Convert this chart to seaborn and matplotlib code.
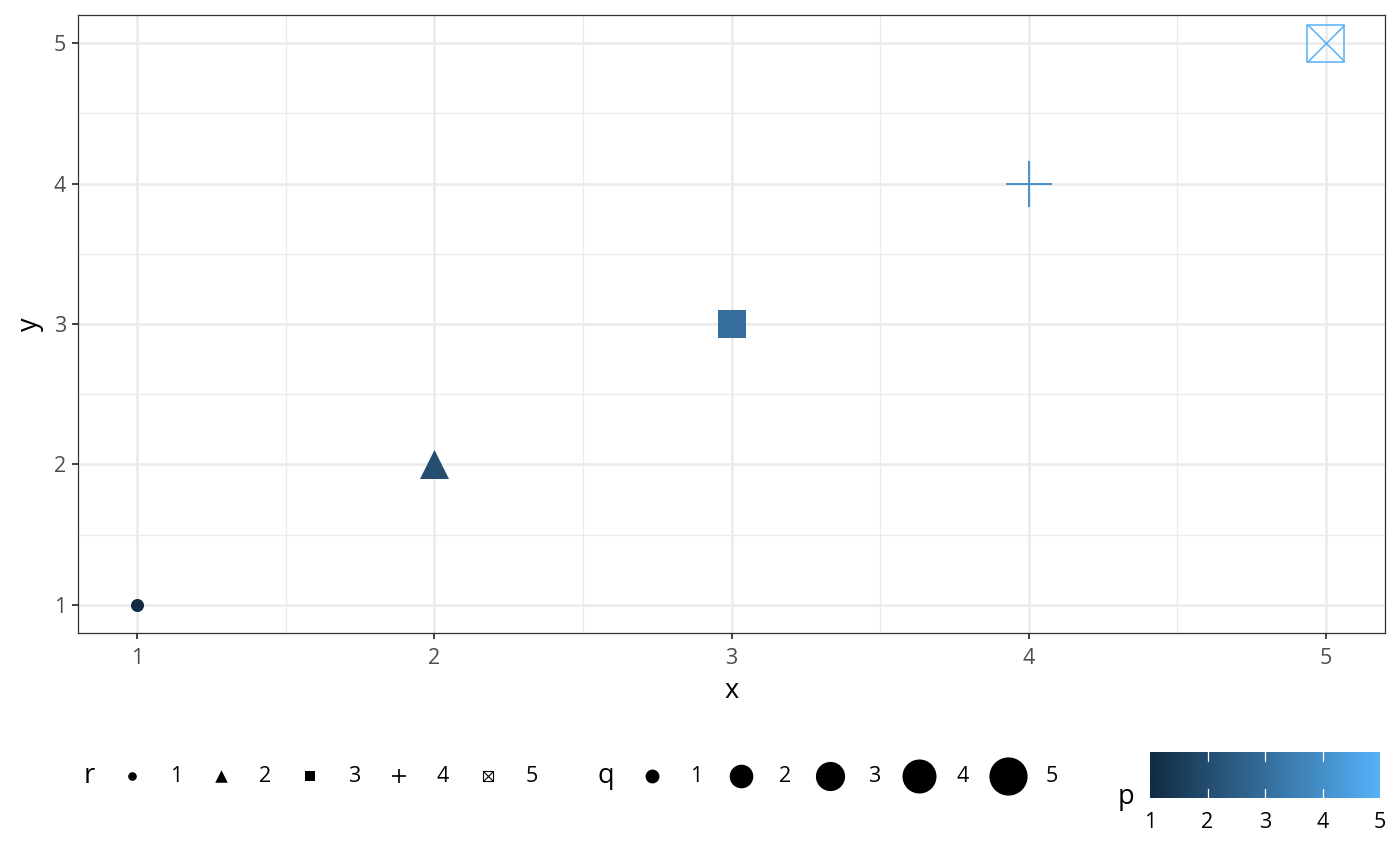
import numpy as np
import pandas as pd
import matplotlib
matplotlib.use("Agg")
import matplotlib.pyplot as plt
from matplotlib.colors import LinearSegmentedColormap
import seaborn as sns

# data
x_vals = [1, 2, 3, 4, 5]
y_vals = [1, 2, 3, 4, 5]
p_vals = [1, 2, 3, 4, 5]
q_vals = [1, 2, 3, 4, 5]
r_vals = ["1", "2", "3", "4", "5"]

# r -> ggplot shape (16, 17, 15, 3, 7)
shape_map = {"1": "o", "2": "^", "3": "s", "4": "+", "5": "sx"}
# marker size (pt) in the panel, by q
panel_size = {1: 9.4, 2: 20.9, 3: 20.2, 4: 33.8, 5: 26.6}
legend_q_size = {1: 10.0, 2: 17.0, 3: 21.0, 4: 24.5, 5: 27.5}
legend_r_size = {"o": 6.2, "^": 9.0, "s": 7.0, "+": 10.5, "sx": 7.6}

cmap = LinearSegmentedColormap.from_list("gg", ["#132B43", "#56B1F7"])
norm = plt.Normalize(min(p_vals), max(p_vals))

df = pd.DataFrame({"x": x_vals, "y": y_vals, "p": p_vals, "q": q_vals, "r": r_vals})

sns.set_theme(style="white")
plt.rcParams["font.family"] = ["Open Sans", "DejaVu Sans"]
plt.rcParams["text.color"] = "black"
plt.rcParams["xtick.color"] = "black"

TXT = 15.5
TITLE = 19.5

fig = plt.figure(figsize=(14, 8.66), dpi=100)
ax = fig.add_axes([78 / 1400, 1 - 633 / 866, 1307 / 1400, 618 / 866])


def draw_marker(axis, x, y, mk, size_pt, col, lw_plain=1.4, lw_box=1.1):
    s = size_pt ** 2
    if mk == "+":
        sns.scatterplot(x=[x], y=[y], marker="+", s=s, color=col,
                        linewidth=lw_plain, ax=axis, legend=False, zorder=3)
    elif mk == "sx":
        sns.scatterplot(x=[x], y=[y], marker="s", s=s, facecolor="none",
                        edgecolor=col, linewidth=lw_box, ax=axis, legend=False, zorder=3)
        sns.scatterplot(x=[x], y=[y], marker="x", s=s, color=col,
                        linewidth=lw_box, ax=axis, legend=False, zorder=3)
    else:
        sns.scatterplot(x=[x], y=[y], marker=mk, s=s, color=col,
                        linewidth=0, ax=axis, legend=False, zorder=3)


for _, row in df.iterrows():
    mk = shape_map[row["r"]]
    draw_marker(ax, row["x"], row["y"], mk, panel_size[row["q"]], cmap(norm(row["p"])))

ax.set_xlim(0.8, 5.2)
ax.set_ylim(0.8, 5.2)
ax.set_xticks([1, 2, 3, 4, 5])
ax.set_yticks([1, 2, 3, 4, 5])
ax.set_xticks([1.5, 2.5, 3.5, 4.5], minor=True)
ax.set_yticks([1.5, 2.5, 3.5, 4.5], minor=True)
ax.grid(True, which="major", color="#EBEBEB", linewidth=1.9, zorder=0)
ax.grid(True, which="minor", color="#EBEBEB", linewidth=0.95, zorder=0)
ax.set_axisbelow(True)
for sp in ax.spines.values():
    sp.set_color("#333333")
    sp.set_linewidth(0.9)
ax.tick_params(which="major", length=4.5, width=1.3, color="#333333",
               labelsize=TXT, labelcolor="#4D4D4D", bottom=True, left=True)
ax.tick_params(axis="x", which="major", pad=6)
ax.tick_params(axis="y", which="major", pad=4)
ax.tick_params(which="minor", length=0)
ax.set_xlabel("x", fontsize=TITLE, color="black", labelpad=6)
ax.set_ylabel("y", fontsize=TITLE, color="black", labelpad=7)

# legends for r and q (bottom strip, pixel coordinates)
lg = fig.add_axes([0, 0, 1, 126 / 866])
lg.set_xlim(0, 1400)
lg.set_ylim(866, 740)
lg.axis("off")
ly = 776
lg.text(89, ly, "r", fontsize=TITLE, ha="center", va="center")
for i, lab in enumerate(r_vals):
    mx = 132 + i * 89
    draw_marker(lg, mx, ly, shape_map[lab], legend_r_size[shape_map[lab]], "black",
                lw_plain=1.2, lw_box=0.8)
    lg.text(mx + 44, ly, lab, fontsize=TXT, ha="center", va="center")

lg.text(606, ly, "q", fontsize=TITLE, ha="center", va="center")
for i, qv in enumerate(q_vals):
    mx = 652 + i * 89
    draw_marker(lg, mx, ly, "o", legend_q_size[qv], "black")
    lg.text(mx + 44, ly, str(qv), fontsize=TXT, ha="center", va="center")

# colourbar for p
cax = fig.add_axes([1150 / 1400, 1 - 798 / 866, 230 / 1400, 46 / 866])
grad = np.linspace(min(p_vals), max(p_vals), 300)
cax.imshow(grad[np.newaxis, :], cmap=cmap, norm=norm, aspect="auto",
           extent=(min(p_vals), max(p_vals), 0, 1))
for t in p_vals[1:-1]:
    cax.plot([t, t], [0, 0.2], color="white", linewidth=0.9)
    cax.plot([t, t], [0.8, 1], color="white", linewidth=0.9)
cax.set_xlim(min(p_vals), max(p_vals))
cax.set_ylim(0, 1)
cax.set_yticks([])
cax.set_xticks(p_vals)
cax.tick_params(axis="x", length=0, labelsize=TXT, pad=10, labelcolor="black")
for sp in cax.spines.values():
    sp.set_visible(False)
fig.text(1126 / 1400, 1 - 797 / 866, "p", fontsize=TITLE, ha="center", va="center")

fig.savefig("out.png", dpi=100)
